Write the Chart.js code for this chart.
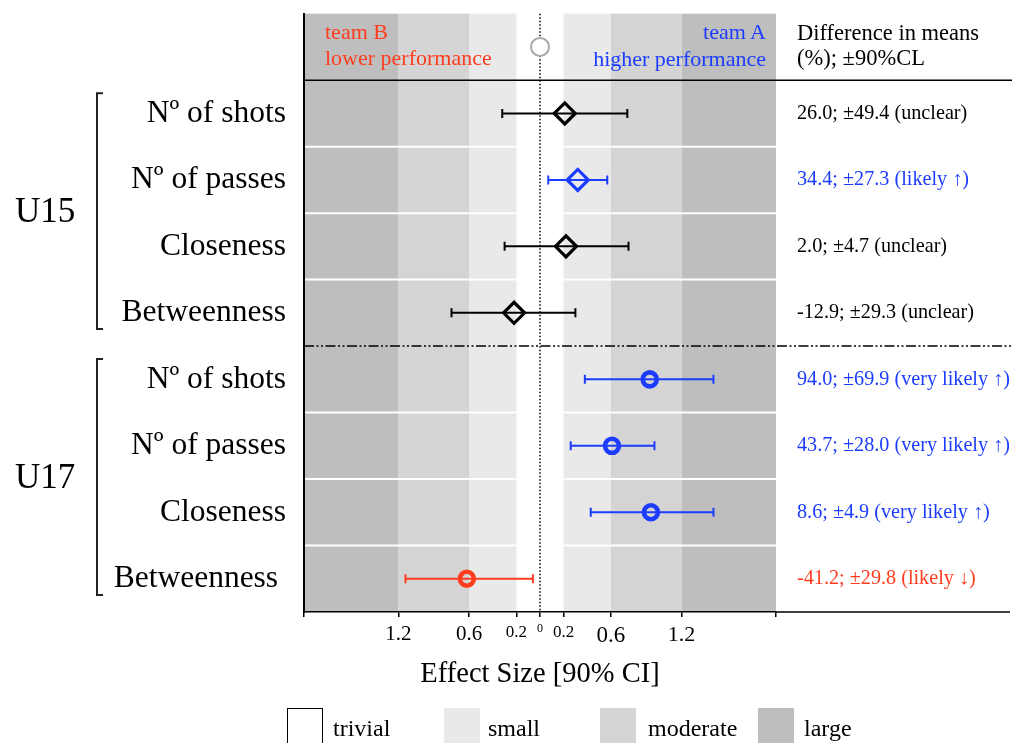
<!DOCTYPE html>
<html>
<head>
<meta charset="utf-8">
<title>Effect size by age group</title>
<script src="https://cdn.jsdelivr.net/npm/chart.js@4.4.1/dist/chart.umd.min.js"></script>
<style>
  html, body { margin: 0; padding: 0; background: #fff; }
  #wrap { position: relative; width: 1026px; height: 743px; overflow: hidden;
          font-family: "Liberation Serif", "Times New Roman", serif; color: #000; }
  .lbl { position: absolute; white-space: nowrap; line-height: 1; }
  .red { color: #ff3c1e; }
  .blue { color: #1c3cff; }
  .box { position: absolute; top: 708px; width: 36px; height: 40px; box-sizing: border-box; }
</style>
</head>
<body>
<div id="wrap">
  <canvas id="chart"></canvas>
  <div class="lbl red" style="left:325px; top:21px; font-size:22px;">team B</div>
  <div class="lbl red" style="left:325px; top:47px; font-size:22px;">lower performance</div>
  <div class="lbl blue" style="right:260px; top:21px; font-size:22px;">team A</div>
  <div class="lbl blue" style="right:260px; top:48px; font-size:22px;">higher performance</div>
</div>
<script>
const groups = ['U15', 'U17'];
const measures = ['Nº of shots', 'Nº of passes', 'Closeness', 'Betweenness'];
const rowGroup = [0, 0, 0, 0, 1, 1, 1, 1];
const rowMeasure = [0, 1, 2, 3, 0, 1, 2, 3];

// standardised effect and 90% confidence limits
const effectSize = [0.21, 0.32, 0.22, -0.22, 0.93, 0.61, 0.94, -0.62];
const lowerCI = [-0.32, 0.07, -0.30, -0.75, 0.38, 0.26, 0.43, -1.14];
const upperCI = [0.74, 0.57, 0.75, 0.30, 1.47, 0.97, 1.47, -0.06];

const diffHeader = ['Difference in means', '(%); ±90%CL'];
const diffMeans = [
  '26.0; ±49.4 (unclear)',
  '34.4; ±27.3 (likely ↑)',
  '2.0; ±4.7 (unclear)',
  '-12.9; ±29.3 (unclear)',
  '94.0; ±69.9 (very likely ↑)',
  '43.7; ±28.0 (very likely ↑)',
  '8.6; ±4.9 (very likely ↑)',
  '-41.2; ±29.8 (likely ↓)'
];
// 1 = team A higher, -1 = team B lower, 0 = unclear
const direction = [0, 1, 0, 0, 1, 1, 1, -1];

const zoneNames = ['trivial', 'small', 'moderate', 'large'];
const zoneEdges = [0.2, 0.6, 1.2, 2];

const tickValues = [-2, -1.2, -0.6, -0.2, 0, 0.2, 0.6, 1.2, 2];
const tickLabels = ['', '1.2', '0.6', '0.2', '0', '0.2', '0.6', '1.2', ''];

// styles
const zoneColors = ['#ffffff', '#e9e9e9', '#d4d4d4', '#bebebe'];
const xTickSize = [13, 21, 21, 17, 12, 17, 23, 22, 13];
const blue = '#1c3cff', red = '#ff3c1e';
const dirColor = d => d > 0 ? blue : d < 0 ? red : '#000';

Chart.defaults.font.family = '"Liberation Serif", "Times New Roman", serif';
Chart.defaults.color = '#000';

const nRows = effectSize.length + 1;          // header band + data rows
const rowY = i => i + 1.5;
const labelTicks = [0.5].concat(effectSize.map((v, i) => rowY(i)));
const leftLabels = [''].concat(rowMeasure.map((m, i) =>
  measures[m] + (i === rowMeasure.length - 1 ? ' ' : '')));
const rightLabels = [diffHeader].concat(diffMeans);

const noPad = s => { s.paddingTop = 0; s.paddingBottom = 0; s.paddingLeft = 0; s.paddingRight = 0; };

const decor = {
  id: 'decor',
  beforeDraw(chart) {
    const { ctx, chartArea: a, scales: { x, y } } = chart;
    ctx.save();
    for (let k = 1; k < zoneEdges.length; k++) {
      const inner = zoneEdges[k - 1], outer = zoneEdges[k];
      ctx.fillStyle = zoneColors[k];
      [[-outer, -inner], [inner, outer]].forEach(([lo, hi]) => {
        const x0 = x.getPixelForValue(lo), x1 = x.getPixelForValue(hi);
        ctx.fillRect(x0, a.top, x1 - x0, a.bottom - a.top);
      });
    }
    // white gaps between rows of the same group
    ctx.strokeStyle = '#fff';
    ctx.lineWidth = 2;
    for (let i = 1; i < rowGroup.length; i++) {
      if (rowGroup[i] !== rowGroup[i - 1]) continue;
      const yy = y.getPixelForValue(i + 1);
      ctx.beginPath(); ctx.moveTo(a.left, yy); ctx.lineTo(a.right, yy); ctx.stroke();
    }
    // dotted zero line
    const x0 = x.getPixelForValue(0);
    ctx.strokeStyle = '#111';
    ctx.lineWidth = 1.6;
    ctx.setLineDash([1.5, 2]);
    ctx.beginPath(); ctx.moveTo(x0, a.top); ctx.lineTo(x0, a.bottom); ctx.stroke();
    ctx.restore();
  },
  afterDraw(chart) {
    const { ctx, chartArea: a, scales: { y } } = chart;
    const W = chart.width;
    const line = (x0, y0, x1, y1) => { ctx.beginPath(); ctx.moveTo(x0, y0); ctx.lineTo(x1, y1); ctx.stroke(); };
    ctx.save();
    ctx.strokeStyle = '#000';
    ctx.lineWidth = 1.5;
    const hy = y.getPixelForValue(1);
    line(a.left, hy, W - 14, hy);
    line(a.right, a.bottom, W - 16, a.bottom);
    // separator between the two age groups
    const split = rowGroup.findIndex(g => g !== rowGroup[0]);
    const sy = y.getPixelForValue(split + 1);
    ctx.setLineDash([10, 2.5, 2, 2.5, 2, 2.5]);
    line(a.left, sy, W - 14, sy);
    ctx.setLineDash([]);
    // group brackets
    ctx.lineWidth = 2;
    ctx.strokeStyle = '#222';
    groups.forEach((g, gi) => {
      const first = rowGroup.indexOf(gi), last = rowGroup.lastIndexOf(gi);
      const top = y.getPixelForValue(first + 1) + 13;
      const bottom = y.getPixelForValue(last + 2) - 17;
      ctx.beginPath();
      ctx.moveTo(103, top); ctx.lineTo(97, top); ctx.lineTo(97, bottom); ctx.lineTo(103, bottom);
      ctx.stroke();
    });
    ctx.restore();
  }
};

const datasets = [
  {
    label: 'null',
    data: [{ x: 0, y: 0.5 }],
    pointStyle: 'circle',
    pointRadius: 9,
    pointBorderWidth: 2,
    pointBorderColor: '#a8a8a8',
    pointBackgroundColor: '#fff',
    order: 0
  },
  {
    label: 'effect size',
    data: effectSize.map((v, i) => ({ x: v, y: rowY(i) })),
    pointStyle: rowGroup.map(g => g === 0 ? 'rectRot' : 'circle'),
    pointRadius: rowGroup.map(g => g === 0 ? 10.5 : 7),
    pointBorderWidth: rowGroup.map(g => g === 0 ? 3.2 : 4.6),
    pointBorderColor: direction.map(dirColor),
    pointBackgroundColor: 'rgba(0,0,0,0)',
    order: 0
  }
].concat(effectSize.map((v, i) => ({
  label: '90% CI ' + i,
  data: [{ x: lowerCI[i], y: rowY(i) }, { x: upperCI[i], y: rowY(i) }],
  showLine: true,
  borderColor: dirColor(direction[i]),
  borderWidth: 2,
  pointStyle: 'line',
  pointRotation: 90,
  pointRadius: 4.5,
  pointBorderWidth: 2,
  pointBorderColor: dirColor(direction[i]),
  order: 1
})));

const chart = new Chart(document.getElementById('chart'), {
  type: 'scatter',
  data: { datasets },
  options: {
    responsive: true,
    maintainAspectRatio: false,
    animation: false,
    events: [],
    layout: { padding: { top: 10 } },
    plugins: { legend: { display: false }, tooltip: { enabled: false } },
    scales: {
      x: {
        type: 'linear', min: -2, max: 2,
        afterBuildTicks: s => { s.ticks = tickValues.map(v => ({ value: v })); },
        afterFit: s => { s.height = 131; noPad(s); },
        ticks: {
          autoSkip: false, maxRotation: 0, padding: 5,
          callback: (v, i) => tickLabels[i],
          font: c => ({ size: xTickSize[c.index] })
        },
        grid: { drawOnChartArea: false, drawTicks: true, tickLength: 5, color: '#000', lineWidth: 1.5 },
        border: { display: true, color: '#000', width: 1.5 },
        title: { display: true, text: 'Effect Size [90% CI]', font: { size: 28.5 }, padding: { top: 0, bottom: 51 } }
      },
      y: {
        type: 'linear', position: 'left', min: 0, max: nRows, reverse: true,
        afterBuildTicks: s => { s.ticks = labelTicks.map(v => ({ value: v })); },
        afterFit: s => { s.width = 304; noPad(s); },
        ticks: { autoSkip: false, padding: 18, callback: (v, i) => leftLabels[i], font: { size: 31.5 } },
        grid: { display: false, drawTicks: false },
        border: { display: true, color: '#000', width: 2 }
      },
      y2: {
        type: 'linear', position: 'right', min: 0, max: nRows, reverse: true,
        afterBuildTicks: s => { s.ticks = labelTicks.map(v => ({ value: v })); },
        afterFit: s => { s.width = 250; noPad(s); },
        ticks: {
          autoSkip: false, padding: 21,
          callback: (v, i) => rightLabels[i],
          font: c => c.index === 0 ? { size: 22.5, lineHeight: 1.12 } : { size: 20.2 },
          color: c => c.index === 0 ? '#000' : dirColor(direction[c.index - 1])
        },
        grid: { display: false, drawTicks: false },
        border: { display: false }
      }
    }
  },
  plugins: [decor]
});

// group names beside the brackets, and the magnitude legend
const wrap = document.getElementById('wrap');
const ys = chart.scales.y;
groups.forEach((g, gi) => {
  const first = rowGroup.indexOf(gi), last = rowGroup.lastIndexOf(gi);
  const mid = (ys.getPixelForValue(first + 1) + ys.getPixelForValue(last + 2)) / 2;
  const d = document.createElement('div');
  d.className = 'lbl';
  d.style.left = '15px';
  d.style.top = (mid - 20) + 'px';
  d.style.fontSize = '35px';
  d.textContent = g;
  wrap.appendChild(d);
});

const legendBoxX = [287, 444, 600, 758];
const legendTextX = [333, 488, 648, 804];
zoneNames.forEach((name, k) => {
  const b = document.createElement('div');
  b.className = 'box';
  b.style.left = legendBoxX[k] + 'px';
  b.style.background = zoneColors[k];
  if (k === 0) b.style.border = '1.5px solid #000';
  wrap.appendChild(b);
  const t = document.createElement('div');
  t.className = 'lbl';
  t.style.left = legendTextX[k] + 'px';
  t.style.top = '716px';
  t.style.fontSize = '24px';
  t.textContent = name;
  wrap.appendChild(t);
});
</script>
</body>
</html>
